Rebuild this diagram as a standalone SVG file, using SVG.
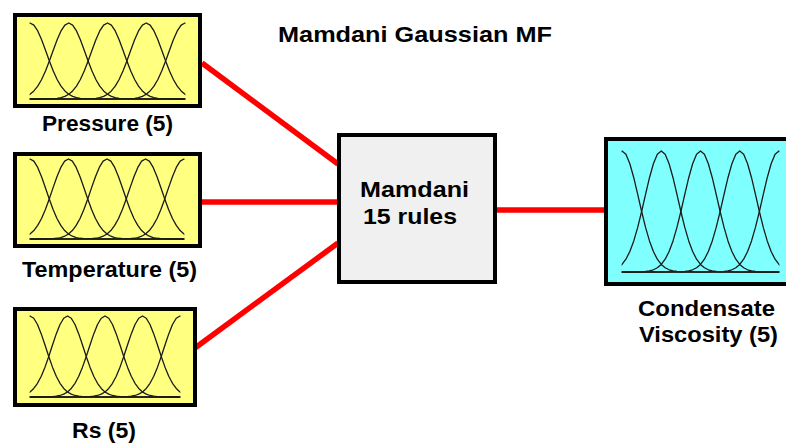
<svg xmlns="http://www.w3.org/2000/svg" xmlns:xlink="http://www.w3.org/1999/xlink" width="786" height="444" viewBox="0 0 786 444">
  <style>
    .lbl { font-family: "Liberation Sans", Arial, sans-serif; font-weight: bold; font-size: 22px; fill: #000; }
    .frame { stroke: #000; stroke-width: 4; }
    .in { fill: #ffff80; }
    .out { fill: #80ffff; }
    .sys { fill: #f0f0f0; }
    .mf { fill: none; stroke: #1a1a1a; stroke-width: 1.3; stroke-linejoin: round; vector-effect: non-scaling-stroke; }
    .wire { stroke: #ff0000; stroke-width: 5.5; fill: none; }
  </style>
  <defs>
    <!-- unit Gaussian membership function: peak 1 at x=0, neighbours cross at 0.5 -->
    <path id="g" class="mf" d="M-4,0 L-2,0 L-1.7,-0.0003 L-1.5,-0.002 L-1.4,-0.0044 L-1.3,-0.0092 L-1.2,-0.0185 L-1.1,-0.0349 L-1,-0.0625 L-0.9,-0.1058 L-0.8,-0.1696 L-0.7,-0.257 L-0.6,-0.3686 L-0.5,-0.5 L-0.4,-0.6417 L-0.3,-0.7792 L-0.2,-0.895 L-0.1,-0.9727 L0,-1 L0.1,-0.9727 L0.2,-0.895 L0.3,-0.7792 L0.4,-0.6417 L0.5,-0.5 L0.6,-0.3686 L0.7,-0.257 L0.8,-0.1696 L0.9,-0.1058 L1,-0.0625 L1.1,-0.0349 L1.2,-0.0185 L1.3,-0.0092 L1.4,-0.0044 L1.5,-0.002 L1.7,-0.0003 L2,0 L4,0"/>
    <clipPath id="range" clipPathUnits="userSpaceOnUse">
      <rect x="-0.01" y="-1.2" width="4.02" height="1.3"/>
    </clipPath>
    <g id="five">
      <g clip-path="url(#range)">
        <use xlink:href="#g" x="0"/>
        <use xlink:href="#g" x="1"/>
        <use xlink:href="#g" x="2"/>
        <use xlink:href="#g" x="3"/>
        <use xlink:href="#g" x="4"/>
      </g>
    </g>
  </defs>

  <rect width="786" height="444" fill="#fff"/>

  <text class="lbl" x="415" y="42" text-anchor="middle" font-size="24" textLength="274" lengthAdjust="spacingAndGlyphs">Mamdani Gaussian MF</text>

  <g id="connectors">
    <line class="wire" x1="202" y1="63" x2="338" y2="164"/>
    <line class="wire" x1="202" y1="202" x2="338" y2="202"/>
    <line class="wire" x1="195" y1="348" x2="338" y2="243"/>
    <line class="wire" x1="496" y1="210" x2="604" y2="210"/>
  </g>

  <g id="pressure">
    <rect class="frame in" x="15" y="15" width="185" height="91"/>
    <use xlink:href="#five" transform="translate(30,99) scale(38.75,76)"/>
    <text class="lbl" x="107.5" y="131" text-anchor="middle" textLength="131" lengthAdjust="spacingAndGlyphs">Pressure (5)</text>
  </g>

  <g id="temperature">
    <rect class="frame in" x="15" y="154" width="185" height="92"/>
    <use xlink:href="#five" transform="translate(30,239) scale(38.5,80)"/>
    <text class="lbl" x="109.5" y="277" text-anchor="middle" textLength="175" lengthAdjust="spacingAndGlyphs">Temperature (5)</text>
  </g>

  <g id="rs">
    <rect class="frame in" x="15" y="309" width="180" height="96"/>
    <use xlink:href="#five" transform="translate(30,397) scale(37.5,81)"/>
    <text class="lbl" x="104" y="438" text-anchor="middle" textLength="64" lengthAdjust="spacingAndGlyphs">Rs (5)</text>
  </g>

  <g id="mamdani">
    <rect class="frame sys" x="339" y="135" width="156" height="147"/>
    <text class="lbl" x="360" y="197" textLength="109" lengthAdjust="spacingAndGlyphs">Mamdani</text>
    <text class="lbl" x="363" y="224" textLength="94" lengthAdjust="spacingAndGlyphs">15 rules</text>
  </g>

  <g id="viscosity">
    <rect class="frame out" x="606" y="139" width="200" height="145"/>
    <use xlink:href="#five" transform="translate(622,272) scale(39.25,121)"/>
    <text class="lbl" x="706.5" y="316" text-anchor="middle" textLength="137" lengthAdjust="spacingAndGlyphs">Condensate</text>
    <text class="lbl" x="708.5" y="342" text-anchor="middle" textLength="139" lengthAdjust="spacingAndGlyphs">Viscosity (5)</text>
  </g>
</svg>
